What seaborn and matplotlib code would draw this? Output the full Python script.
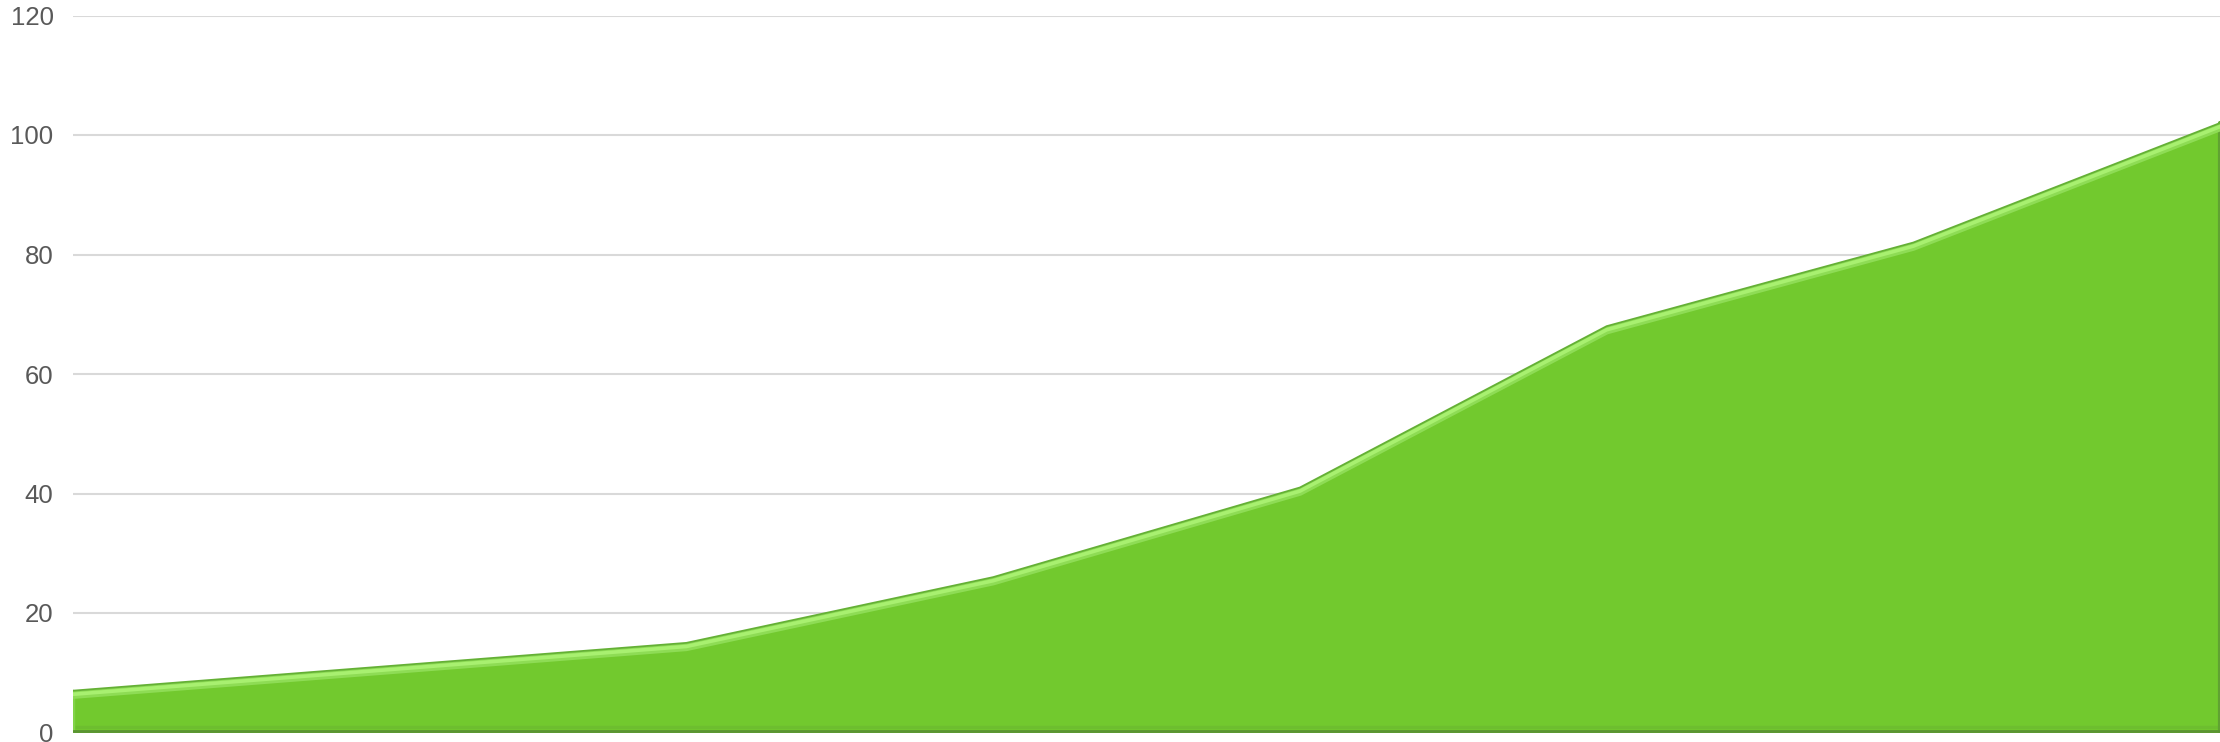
import matplotlib
matplotlib.use('Agg')
import matplotlib.pyplot as plt
import matplotlib.patheffects as pe
import seaborn as sns
import pandas as pd

# data (x = period index, one period skipped after the first)
periods = [0, 2, 3, 4, 5, 6, 7]
values = [7, 15, 26, 41, 68, 82, 102]
yticks = [0, 20, 40, 60, 80, 100, 120]

df = pd.DataFrame({'period': periods, 'value': values})

sns.set_theme(style='white')
plt.rcParams['font.family'] = ['Liberation Sans', 'DejaVu Sans']

fig = plt.figure(figsize=(22.2, 7.42), dpi=100)
ax = fig.add_axes([73 / 2220, 9.5 / 742, 1 - 73 / 2220, 717 / 742])

fill = '#72C92E'
ax.fill_between(df['period'], 0, df['value'], color=fill, linewidth=0, zorder=2)

# bevel-ish top edge: darker rim with a light highlight just below it
sns.lineplot(data=df, x='period', y='value', ax=ax, color='#64B035', linewidth=1.3,
             zorder=4, sort=False,
             path_effects=[pe.SimpleLineShadow(offset=(0, -3.2), shadow_color='#8EDC55',
                                               alpha=1, linewidth=5.5),
                           pe.SimpleLineShadow(offset=(0, -2.6), shadow_color='#A8F070',
                                               alpha=1, linewidth=2.6),
                           pe.Normal()])

# darker rim along the bottom and right side
ax.plot([periods[0], periods[-1]], [0.3, 0.3], color='#5A9432', linewidth=2.0, zorder=5)
ax.plot([periods[0], periods[-1]], [1.0, 1.0], color='#6CBA30', linewidth=2.5, alpha=0.7, zorder=3)
ax.plot([periods[-1], periods[-1]], [0, values[-1]], color='#60A232', linewidth=3, zorder=3)
ax.plot([periods[0], periods[0]], [0, values[0]], color='#82D448', linewidth=2.5, zorder=3)

ax.set_xlim(periods[0], periods[-1])
ax.set_ylim(0, 120)
ax.set_yticks(yticks)
ax.set_yticklabels([str(t) for t in yticks])
ax.set_xticks([])
ax.set_xlabel('')
ax.set_ylabel('')
ax.grid(axis='y', color='#D9D9D9', linewidth=1.5, zorder=1)
ax.set_axisbelow(True)
for s in ax.spines.values():
    s.set_visible(False)
ax.tick_params(axis='y', length=0, pad=14, labelsize=18.5, labelcolor='#595959')

fig.savefig('out.png', dpi=100)
